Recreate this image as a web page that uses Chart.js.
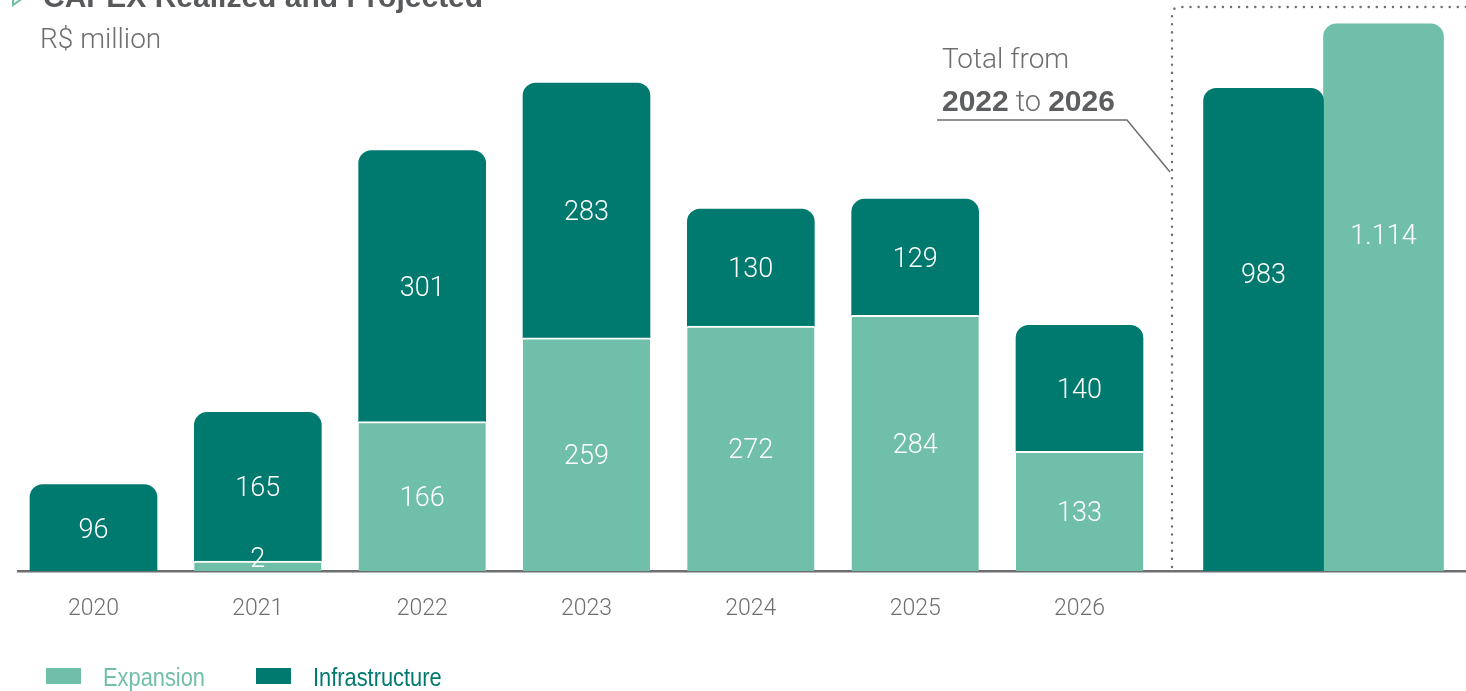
<!DOCTYPE html>
<html>
<head>
<meta charset="utf-8">
<title>CAPEX Realized and Projected</title>
<script src="https://cdn.jsdelivr.net/npm/chart.js@4/dist/chart.umd.min.js"></script>
<style>
  html, body { margin: 0; padding: 0; background: #ffffff; }
  #wrap { position: relative; width: 1466px; height: 691px; }
</style>
</head>
<body>
<div id="wrap"><canvas id="capex" width="1466" height="691"></canvas></div>
<script>
// ---- data (R$ million) ----
const years = ['2020', '2021', '2022', '2023', '2024', '2025', '2026'];
const expansion = [null, 2, 166, 259, 272, 284, 133];
const infrastructure = [96, 165, 301, 283, 130, 129, 140];
const totalRange = ['2022', '2026'];

// ---- styling ----
const TEAL = '#00796f';
const MINT = '#6fbfa9';
const GREY = '#6d6e70';
const DARK_GREY = '#58595b';
const LIGHT_FONT = 'Roboto, "Liberation Sans", sans-serif';
const BOLD_FONT = '"Liberation Sans", Arial, sans-serif';

// totals over the selected period, one bar per series
const firstIdx = years.indexOf(totalRange[0]);
const lastIdx = years.indexOf(totalRange[1]);
const sumRange = arr => arr.slice(firstIdx, lastIdx + 1).reduce((a, v) => a + (v || 0), 0);
const totalInfrastructure = sumRange(infrastructure);
const totalExpansion = sumRange(expansion);

// horizontal slots on the linear index axis (one unit per year)
const TOTAL_INFRA_SLOT = 7.12;
const TOTAL_EXP_SLOT = 7.85;

const fmt = v => String(v).replace(/\B(?=(\d{3})+(?!\d))/g, '.');

const topRound = { topLeft: 13, topRight: 13, bottomLeft: 0, bottomRight: 0 };

const datasets = [
  {
    label: 'Expansion',
    data: years.map((y, i) => ({ x: i, y: expansion[i] })),
    backgroundColor: MINT,
    borderColor: '#ffffff',
    borderWidth: { top: 2, left: 0, right: 0, bottom: 0 },
    borderRadius: 0,
    barThickness: 127,
    minBarLength: 10,
    grouped: false,
    stack: 'year',
    yAxisID: 'y',
    inLegend: true
  },
  {
    label: 'Infrastructure',
    data: years.map((y, i) => ({ x: i, y: infrastructure[i] })),
    backgroundColor: TEAL,
    borderWidth: 0,
    borderRadius: topRound,
    barThickness: 127,
    grouped: false,
    stack: 'year',
    yAxisID: 'y',
    inLegend: true
  },
  {
    label: 'Infrastructure total',
    data: [{ x: TOTAL_INFRA_SLOT, y: totalInfrastructure }],
    backgroundColor: TEAL,
    borderWidth: 0,
    borderRadius: topRound,
    barThickness: 120,
    grouped: false,
    stack: 'totInfra',
    yAxisID: 'y2',
    labelAt: 0.39
  },
  {
    label: 'Expansion total',
    data: [{ x: TOTAL_EXP_SLOT, y: totalExpansion }],
    backgroundColor: MINT,
    borderWidth: 0,
    borderRadius: topRound,
    barThickness: 120,
    grouped: false,
    stack: 'totExp',
    yAxisID: 'y2',
    labelAt: 0.39
  }
];

// white value labels inside each bar
const valueLabels = {
  id: 'valueLabels',
  afterDatasetsDraw(chart) {
    const ctx = chart.ctx;
    ctx.save();
    ctx.fillStyle = '#ffffff';
    ctx.font = '300 27px ' + LIGHT_FONT;
    ctx.textAlign = 'center';
    ctx.textBaseline = 'middle';
    chart.data.datasets.forEach((ds, di) => {
      const meta = chart.getDatasetMeta(di);
      meta.data.forEach((bar, i) => {
        const v = ds.data[i].y;
        if (v === null || v === undefined) return;
        const top = Math.min(bar.y, bar.base);
        const base = Math.max(bar.y, bar.base);
        let ty;
        if (ds.labelAt !== undefined) {
          ty = top + ds.labelAt * (base - top);
        } else {
          ty = Math.min((top + base) / 2 + 3, base - 11);
        }
        ctx.fillText(fmt(v), bar.x, ty);
      });
    });
    ctx.restore();
  }
};

// headings, the period bracket and the legend
const decorations = {
  id: 'decorations',
  afterDraw(chart) {
    const ctx = chart.ctx;
    const area = chart.chartArea;
    ctx.save();

    // heading marker
    ctx.strokeStyle = MINT;
    ctx.lineWidth = 2;
    ctx.beginPath();
    ctx.moveTo(13, -9);
    ctx.lineTo(23, -2);
    ctx.lineTo(13, 5);
    ctx.closePath();
    ctx.stroke();

    // heading and unit
    ctx.fillStyle = DARK_GREY;
    ctx.textAlign = 'left';
    ctx.textBaseline = 'alphabetic';
    ctx.font = 'bold 30px ' + BOLD_FONT;
    ctx.fillText('CAPEX Realized and Projected', 43, 7);
    ctx.fillStyle = GREY;
    ctx.font = '300 28px ' + LIGHT_FONT;
    ctx.fillText('R$ million', 40, 48);

    // period note
    ctx.font = '300 28px ' + LIGHT_FONT;
    ctx.fillText('Total from', 942, 68);
    let x = 942;
    const parts = [
      [totalRange[0], 'bold 30px ' + BOLD_FONT, '#5d5e60'],
      [' to ', '300 29px ' + LIGHT_FONT, GREY],
      [totalRange[1], 'bold 30px ' + BOLD_FONT, '#5d5e60']
    ];
    parts.forEach(([t, f, c]) => {
      ctx.font = f;
      ctx.fillStyle = c;
      ctx.fillText(t, x, 111);
      x += ctx.measureText(t).width;
    });

    // leader line
    ctx.strokeStyle = GREY;
    ctx.lineWidth = 1.5;
    ctx.beginPath();
    ctx.moveTo(937, 120);
    ctx.lineTo(1127, 120);
    ctx.lineTo(1170, 172);
    ctx.stroke();

    // dotted frame around the totals
    ctx.setLineDash([0.1, 8]);
    ctx.lineCap = 'round';
    ctx.lineWidth = 2.4;
    ctx.beginPath();
    ctx.moveTo(1172, area.bottom - 4);
    ctx.lineTo(1172, 15);
    ctx.quadraticCurveTo(1172, 7, 1180, 7);
    ctx.lineTo(1466, 7);
    ctx.stroke();
    ctx.setLineDash([]);

    // legend (condensed lettering)
    const legendItems = [[46, 103], [256, 313]];
    ctx.font = '26px "Liberation Sans Narrow", "Arial Narrow", "Liberation Sans", sans-serif';
    chart.data.datasets.filter(d => d.inLegend).forEach((ds, k) => {
      const [bx, tx] = legendItems[k];
      ctx.fillStyle = ds.backgroundColor;
      ctx.fillRect(bx, 668, 35, 16);
      ctx.save();
      ctx.translate(tx, 686);
      ctx.scale(0.84, 1);
      ctx.fillText(ds.label, 0, 0);
      ctx.restore();
    });

    ctx.restore();
  }
};

new Chart(document.getElementById('capex'), {
  type: 'bar',
  data: { datasets },
  options: {
    responsive: false,
    devicePixelRatio: 1,
    animation: false,
    layout: { padding: { top: 20, left: 18, right: 0, bottom: 0 } },
    plugins: {
      legend: { display: false },
      tooltip: { enabled: false },
      title: { display: false }
    },
    scales: {
      x: {
        type: 'linear',
        offset: false,
        min: -0.4594,
        max: 8.352,
        grid: { display: false, drawTicks: false, offset: false },
        border: { display: true, color: GREY, width: 2.5 },
        afterBuildTicks: s => { s.ticks = years.map((_, i) => ({ value: i })); },
        afterFit: s => { s.height = 120; },
        ticks: {
          autoSkip: false,
          maxRotation: 0,
          padding: 24,
          color: GREY,
          font: { family: LIGHT_FONT, size: 23, weight: '300' },
          callback: v => years[v] !== undefined ? years[v] : ''
        }
      },
      y: {
        display: false,
        stacked: true,
        min: 0,
        max: 612
      },
      y2: {
        display: false,
        stacked: false,
        min: 0,
        max: 1122
      }
    }
  },
  plugins: [valueLabels, decorations]
});
</script>
</body>
</html>
